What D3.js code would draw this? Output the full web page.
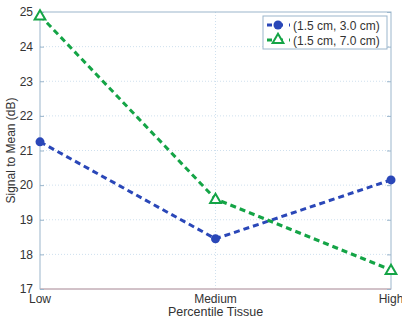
<!DOCTYPE html>
<html>
<head>
<meta charset="utf-8">
<script src="https://cdn.jsdelivr.net/npm/d3@7"></script>
<style>
  body { margin: 0; background: #fff; }
  svg { display: block; font-family: "Liberation Sans", Arial, sans-serif; }
</style>
</head>
<body>
<div id="chart"></div>
<script>
// Data
const categories = ["Low", "Medium", "High"];
const seriesNames = ["(1.5 cm, 3.0 cm)", "(1.5 cm, 7.0 cm)"];
const shortSeries = [21.25, 18.45, 20.15];
const longSeries = [24.9, 19.6, 17.55];
const yTicks = [17, 18, 19, 20, 21, 22, 23, 24, 25];

const width = 402, height = 322;
const margin = { top: 12, right: 11, bottom: 33, left: 40 };

const svg = d3.select("#chart").append("svg")
    .attr("width", width)
    .attr("height", height);

const x = d3.scalePoint()
    .domain(categories)
    .range([margin.left, width - margin.right]);

const y = d3.scaleLinear()
    .domain([17, 25])
    .range([height - margin.bottom, margin.top]);

const axisColor = "#9bb6cc";

// dotted grid
svg.append("g")
    .selectAll("line")
    .data(yTicks.slice(1, -1))
    .join("line")
    .attr("x1", margin.left).attr("x2", width - margin.right)
    .attr("y1", d => y(d)).attr("y2", d => y(d))
    .attr("stroke", "#cfe0ee")
    .attr("stroke-width", 1)
    .attr("stroke-dasharray", "1,2");

svg.append("line")
    .attr("x1", x("Medium")).attr("x2", x("Medium"))
    .attr("y1", margin.top).attr("y2", height - margin.bottom)
    .attr("stroke", "#cfe0ee")
    .attr("stroke-dasharray", "1,2");

// box
svg.append("rect")
    .attr("x", margin.left).attr("y", margin.top)
    .attr("width", width - margin.right - margin.left)
    .attr("height", height - margin.bottom - margin.top)
    .attr("fill", "none")
    .attr("stroke", axisColor);

svg.append("line")
    .attr("x1", margin.left).attr("x2", width - margin.right)
    .attr("y1", height - margin.bottom).attr("y2", height - margin.bottom)
    .attr("stroke", "#d6a8ab");

// y axis
const yAxis = svg.append("g")
    .attr("transform", `translate(${margin.left},0)`)
    .call(d3.axisLeft(y).tickValues(yTicks).tickSize(-4).tickPadding(7));
yAxis.select(".domain").remove();
yAxis.selectAll("line").attr("stroke", axisColor);
yAxis.selectAll("text").attr("fill", "#333").attr("font-size", 12)
    .attr("font-family", "Liberation Sans, Arial, sans-serif");

// right side ticks
const yAxisR = svg.append("g")
    .attr("transform", `translate(${width - margin.right},0)`)
    .call(d3.axisRight(y).tickValues(yTicks).tickSize(-4).tickFormat(""));
yAxisR.select(".domain").remove();
yAxisR.selectAll("line").attr("stroke", axisColor);

// x axis labels
svg.append("g")
    .selectAll("text")
    .data(categories)
    .join("text")
    .attr("x", d => x(d))
    .attr("y", height - margin.bottom + 14)
    .attr("text-anchor", "middle")
    .attr("fill", "#333")
    .attr("font-size", 12)
    .text(d => d);

svg.append("text")
    .attr("x", x("Medium"))
    .attr("y", height - 6)
    .attr("text-anchor", "middle")
    .attr("fill", "#333")
    .attr("font-size", 12.5)
    .text("Percentile Tissue");

svg.append("text")
    .attr("transform", `translate(15,${(margin.top + height - margin.bottom) / 2}) rotate(-90)`)
    .attr("text-anchor", "middle")
    .attr("fill", "#333")
    .attr("font-size", 12)
    .text("Signal to Mean (dB)");

const line = d3.line()
    .x((d, i) => x(categories[i]))
    .y(d => y(d));

const blue = "#2a47b8", green = "#14a446";

svg.append("path")
    .datum(shortSeries)
    .attr("d", line)
    .attr("fill", "none")
    .attr("stroke", blue)
    .attr("stroke-width", 3)
    .attr("stroke-dasharray", "6,4");

svg.append("path")
    .datum(longSeries)
    .attr("d", line)
    .attr("fill", "none")
    .attr("stroke", green)
    .attr("stroke-width", 3)
    .attr("stroke-dasharray", "6,4");

const tri = d3.symbol().type(d3.symbolTriangle).size(50);

svg.append("g")
    .selectAll("circle")
    .data(shortSeries)
    .join("circle")
    .attr("cx", (d, i) => x(categories[i]))
    .attr("cy", d => y(d))
    .attr("r", 4.5)
    .attr("fill", blue);

svg.append("g")
    .selectAll("path")
    .data(longSeries)
    .join("path")
    .attr("d", tri)
    .attr("transform", (d, i) => `translate(${x(categories[i])},${y(d) + 1})`)
    .attr("fill", "#fff")
    .attr("stroke", green)
    .attr("stroke-width", 2);

// legend
const lg = svg.append("g").attr("transform", "translate(263,16)");
lg.append("rect")
    .attr("width", 124).attr("height", 33)
    .attr("fill", "#fff")
    .attr("stroke", axisColor);

const legendItems = [
  { name: seriesNames[0], color: blue, mark: "circle" },
  { name: seriesNames[1], color: green, mark: "triangle" }
];
legendItems.forEach((item, i) => {
  const g = lg.append("g").attr("transform", `translate(0,${9 + i * 15})`);
  g.append("line")
      .attr("x1", 4).attr("x2", 27)
      .attr("stroke", item.color)
      .attr("stroke-width", 3)
      .attr("stroke-dasharray", "5,6");
  if (item.mark === "circle") {
    g.append("circle").attr("cx", 15).attr("r", 4.5).attr("fill", item.color);
  } else {
    g.append("path").attr("d", tri).attr("transform", "translate(15,0)")
        .attr("fill", "#fff").attr("stroke", item.color).attr("stroke-width", 2);
  }
  g.append("text")
      .attr("x", 30).attr("y", 4.5)
      .attr("fill", "#333")
      .attr("font-size", 12)
      .text(item.name);
});
</script>
</body>
</html>
